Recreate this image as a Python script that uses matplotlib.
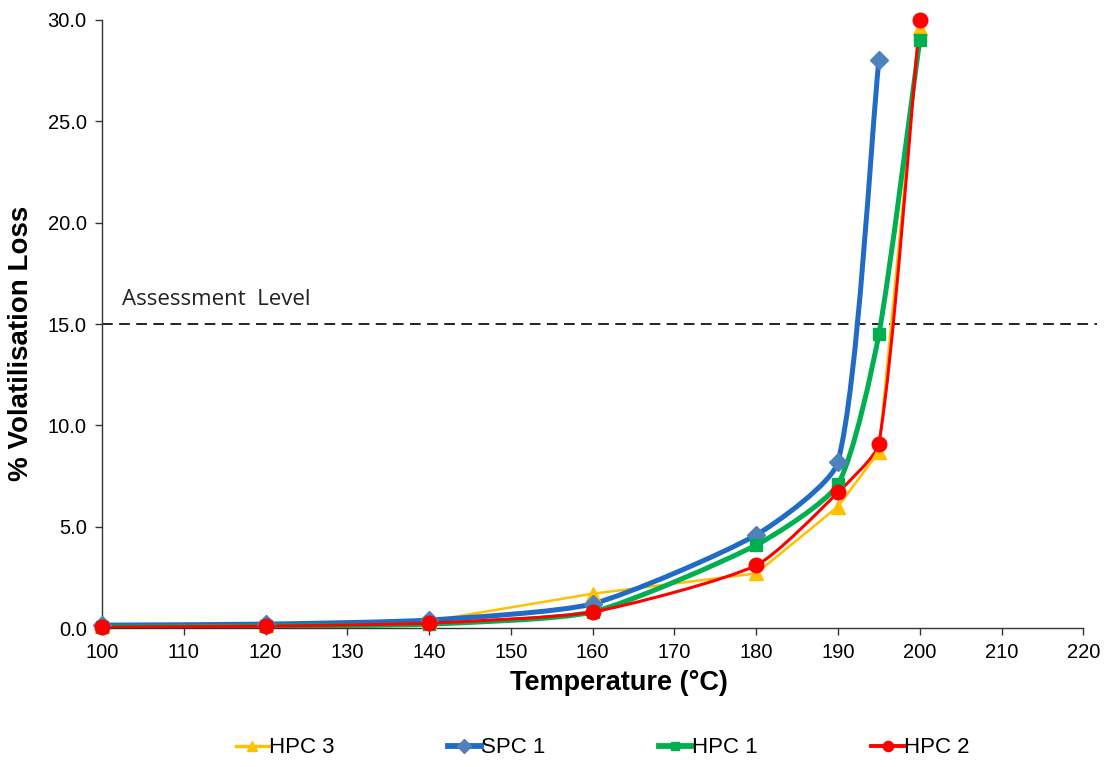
import numpy as np
from matplotlib import pyplot as plt
from matplotlib.path import Path
from matplotlib.patches import PathPatch
from matplotlib.lines import Line2D

temps = [100, 120, 140, 160, 180, 190, 195, 200]
hpc3 = [0.1, 0.15, 0.35, 1.7, 2.7, 6.0, 8.7, 29.6]
spc1_temps = [100, 120, 140, 160, 180, 190, 195]
spc1 = [0.15, 0.2, 0.4, 1.2, 4.6, 8.2, 28.0]
hpc1 = [0.05, 0.1, 0.2, 0.8, 4.1, 7.1, 14.5, 29.0]
hpc2 = [0.05, 0.1, 0.25, 0.8, 3.1, 6.7, 9.1, 30.0]
assessment_level = 15.0

tick_font = 'Liberation Sans'


def smooth_path(ax, xs, ys, k=0.2):
    # excel-ish smoothing done in screen space, then mapped back to data
    pts = ax.transData.transform(np.column_stack([xs, ys]))
    n = len(pts)
    verts = [pts[0]]
    codes = [Path.MOVETO]

    def direction(i):
        a = pts[max(i - 1, 0)]
        b = pts[min(i + 1, n - 1)]
        v = b - a
        return v / np.hypot(*v)

    for i in range(n - 1):
        p1, p2 = pts[i], pts[i + 1]
        seg = np.hypot(*(p2 - p1))
        verts.append(p1 + direction(i) * seg * k)
        verts.append(p2 - direction(i + 1) * seg * k)
        verts.append(p2)
        codes += [Path.CURVE4] * 3
    data_verts = ax.transData.inverted().transform(np.array(verts))
    return Path(data_verts, codes)


fig = plt.figure(figsize=(11.12, 7.67), dpi=100)
ax = fig.add_axes([0.0917, 0.181, 0.8825, 0.793])
ax.set_xlim(100, 220)
ax.set_ylim(0, 30)

series = [
    ('HPC 3', temps, hpc3, '#FFC000', '#FFC000', '^', 1.8, False, 10),
    ('SPC 1', spc1_temps, spc1, '#1F6BC5', '#4F81BD', 'D', 3.6, True, 9.5),
    ('HPC 1', temps, hpc1, '#00B050', '#00B050', 's', 3.6, True, 9),
    ('HPC 2', temps, hpc2, '#FF0000', '#FF0000', 'o', 2.2, True, 10.5),
]

handles = []
for name, xs, ys, lc, mc, mk, lw, smooth, ms in series:
    if smooth:
        ax.add_patch(PathPatch(smooth_path(ax, xs, ys), facecolor='none',
                               edgecolor=lc, lw=lw, capstyle='round',
                               joinstyle='round', zorder=3))
    else:
        ax.plot(xs, ys, color=lc, lw=lw, zorder=3)
    ax.plot(xs, ys, ls='none', marker=mk, color=mc, markersize=ms,
            markeredgecolor=mc, zorder=4, clip_on=False)
    handles.append(Line2D([], [], color=lc, lw=lw + 0.6, marker=mk,
                          markerfacecolor=mc, markeredgecolor=mc,
                          markersize=ms * 0.7))

ax.plot([100, 221.7], [assessment_level, assessment_level],
        ls=(0, (5.5, 3.3)), color='#222222', lw=1.4, clip_on=False, zorder=2)
ax.text(102.5, assessment_level + 0.7, 'Assessment  Level', fontsize=16,
        family='Open Sans', color='#222222', va='bottom', ha='left')

ax.set_xticks(range(100, 221, 10))
ax.set_yticks(np.arange(0, 30.1, 5))
ax.set_yticklabels(['{:.1f}'.format(v) for v in np.arange(0, 30.1, 5)])
for lbl in ax.get_xticklabels() + ax.get_yticklabels():
    lbl.set_family(tick_font)
    lbl.set_fontsize(14.5)
ax.tick_params(direction='out', length=5, width=1, color='#333333', pad=6)
for s in ['top', 'right']:
    ax.spines[s].set_visible(False)
for s in ['left', 'bottom']:
    ax.spines[s].set_color('#333333')
    ax.spines[s].set_linewidth(1.0)

ax.set_xlabel('Temperature (°C)', fontsize=19.5, fontweight='bold',
              family=tick_font)
ax.set_ylabel('% Volatilisation Loss', fontsize=20, fontweight='bold',
              family=tick_font)
ax.xaxis.set_label_coords(0.527, -0.068)
ax.yaxis.set_label_coords(-0.069, 0.469)

fig.legend(handles, [s[0] for s in series], loc='center', ncol=4,
           bbox_to_anchor=(0.542, 0.025), frameon=False, handlelength=1.5,
           handletextpad=0.0, columnspacing=5.1,
           prop={'family': tick_font, 'size': 16})

fig.savefig('out.png', dpi=100)
